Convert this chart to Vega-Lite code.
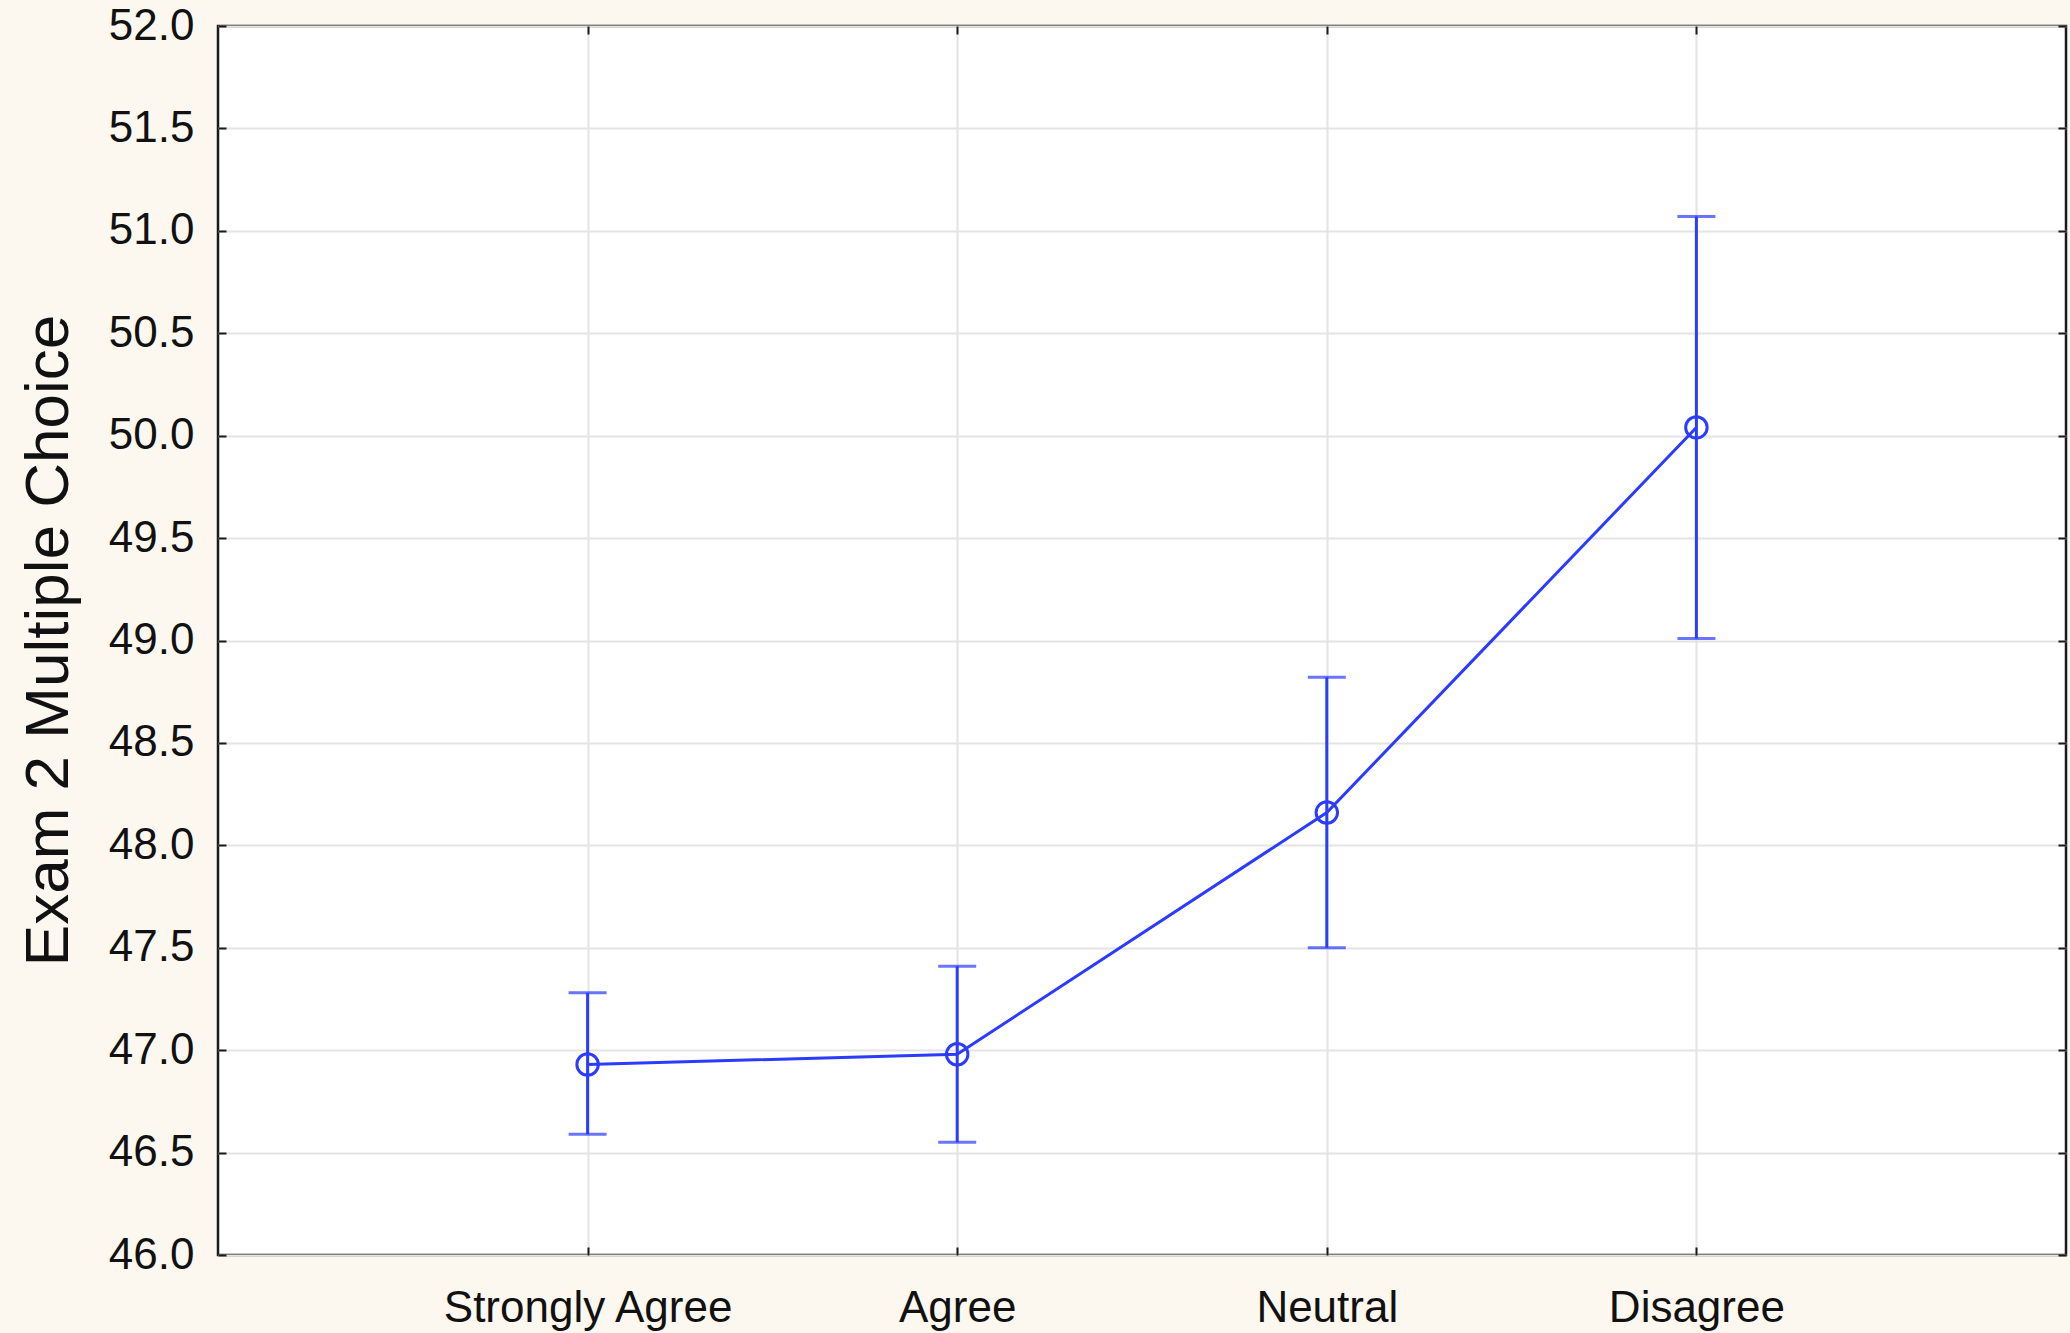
{
  "$schema": "https://vega.github.io/schema/vega-lite/v6.json",
  "autosize": {"type": "none"},
  "padding": {"left": 218, "top": 26, "right": 4, "bottom": 78},
  "width": 1848,
  "height": 1229,
  "background": "#fdf8ef",
  "config": {
    "view": {"stroke": "#1a1a1a", "strokeWidth": 2.5, "fill": "white"},
    "font": "Liberation Sans",
    "axis": {
      "labelFont": "Liberation Sans",
      "titleFont": "Liberation Sans",
      "labelColor": "#111111",
      "titleColor": "#111111",
      "gridColor": "#e4e4e4",
      "gridWidth": 2,
      "domain": false,
      "tickColor": "#1a1a1a",
      "tickWidth": 2,
      "tickSize": -8
    }
  },
  "data": {
    "values": [
      {"response": "Strongly Agree", "mean": 46.93, "lo": 46.59, "hi": 47.28},
      {"response": "Agree", "mean": 46.98, "lo": 46.55, "hi": 47.41},
      {"response": "Neutral", "mean": 48.16, "lo": 47.50, "hi": 48.82},
      {"response": "Disagree", "mean": 50.04, "lo": 49.01, "hi": 51.07}
    ]
  },
  "resolve": {"axis": {"x": "independent", "y": "independent"}},
  "layer": [
    {
      "mark": {"type": "rule", "color": "#2b3bff", "strokeWidth": 3},
      "encoding": {
        "x": {
          "field": "response",
          "type": "nominal",
          "sort": ["Strongly Agree", "Agree", "Neutral", "Disagree"],
          "scale": {"type": "point", "padding": 1},
          "axis": {"title": null, "labelAngle": 0, "labelFontSize": 44, "labelPadding": 39, "labelLimit": 0, "grid": true}
        },
        "y": {
          "field": "lo",
          "type": "quantitative",
          "scale": {"domain": [46, 52], "nice": false, "zero": false},
          "axis": {
            "title": "Exam 2 Multiple Choice",
            "titleFontSize": 62,
            "titleFontWeight": "normal",
            "titleX": -170,
            "titleY": 614,
            "titleAngle": -90,
            "titleAlign": "center",
            "titleBaseline": "middle",
            "labelFontSize": 44,
            "labelPadding": 32,
            "format": ".1f",
            "values": [46, 46.5, 47, 47.5, 48, 48.5, 49, 49.5, 50, 50.5, 51, 51.5, 52],
            "grid": true
          }
        },
        "y2": {"field": "hi"}
      }
    },
    {
      "mark": {"type": "tick", "color": "#2b3bff", "thickness": 3, "size": 38, "orient": "horizontal"},
      "encoding": {
        "x": {"field": "response", "type": "nominal", "sort": ["Strongly Agree", "Agree", "Neutral", "Disagree"], "axis": null},
        "y": {"field": "lo", "type": "quantitative", "axis": null}
      }
    },
    {
      "mark": {"type": "tick", "color": "#2b3bff", "thickness": 3, "size": 38, "orient": "horizontal"},
      "encoding": {
        "x": {"field": "response", "type": "nominal", "sort": ["Strongly Agree", "Agree", "Neutral", "Disagree"], "axis": null},
        "y": {"field": "hi", "type": "quantitative", "axis": null}
      }
    },
    {
      "mark": {"type": "line", "color": "#2b3bff", "strokeWidth": 3},
      "encoding": {
        "x": {"field": "response", "type": "nominal", "sort": ["Strongly Agree", "Agree", "Neutral", "Disagree"], "axis": {"orient": "top", "labels": false, "title": null, "grid": false}},
        "y": {"field": "mean", "type": "quantitative", "axis": {"orient": "right", "labels": false, "title": null, "grid": false, "values": [46, 46.5, 47, 47.5, 48, 48.5, 49, 49.5, 50, 50.5, 51, 51.5, 52]}}
      }
    },
    {
      "mark": {"type": "point", "shape": "circle", "filled": false, "color": "#2b3bff", "strokeWidth": 3, "size": 460, "opacity": 1},
      "encoding": {
        "x": {"field": "response", "type": "nominal", "sort": ["Strongly Agree", "Agree", "Neutral", "Disagree"], "axis": null},
        "y": {"field": "mean", "type": "quantitative", "axis": null}
      }
    }
  ]
}
